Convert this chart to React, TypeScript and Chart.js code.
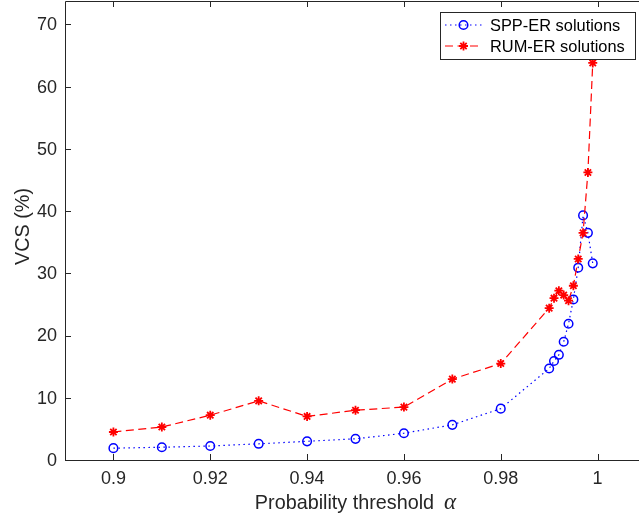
import { useEffect, useRef } from 'react';
import { Chart, registerables } from 'chart.js';

Chart.register(...registerables);

const alphaValues = [0.9, 0.91, 0.92, 0.93, 0.94, 0.95, 0.96, 0.97, 0.98, 0.99, 0.991, 0.992, 0.993, 0.994, 0.995, 0.996, 0.997, 0.998, 0.999];
const sppValues = [1.9, 2.05, 2.25, 2.6, 3.0, 3.4, 4.3, 5.65, 8.25, 14.7, 15.9, 16.9, 19.0, 21.9, 25.8, 30.9, 39.3, 36.5, 31.6];
const rumValues = [4.5, 5.3, 7.2, 9.5, 7.0, 8.0, 8.5, 13.0, 15.5, 24.4, 26.0, 27.2, 26.5, 25.6, 28.0, 32.3, 36.5, 46.2, 63.8];

const seriesLabels = ['SPP-ER solutions', 'RUM-ER solutions'];
const xTickValues = [0.9, 0.92, 0.94, 0.96, 0.98, 1];
const xTickLabels = ['0.9', '0.92', '0.94', '0.96', '0.98', '1'];
const yTickValues = [0, 10, 20, 30, 40, 50, 60, 70];
const yTickLabels = ['0', '10', '20', '30', '40', '50', '60', '70'];
const xTitle = 'Probability threshold';
const xTitleSymbol = 'α';
const yTitle = 'VCS (%)';

const AXIS = '#262626';
const SANS = "'Liberation Sans', Arial, Helvetica, sans-serif";
const SERIF_IT = "italic 23px 'Liberation Serif', 'DejaVu Serif', serif";

const framePlugin = {
  id: 'matlabFrame',
  afterDraw(chart: any) {
    const ctx = chart.ctx as CanvasRenderingContext2D;
    const { left, right, top, bottom } = chart.chartArea;
    const xs = chart.scales.x;
    const ys = chart.scales.y;
    ctx.save();
    ctx.strokeStyle = AXIS;
    ctx.lineWidth = 1;
    ctx.beginPath();
    ctx.rect(Math.round(left) + 0.5, Math.round(top) + 0.5, Math.round(right - left), Math.round(bottom - top));
    ctx.stroke();
    const tl = 6;
    ctx.beginPath();
    xTickValues.forEach((v) => {
      const px = Math.round(xs.getPixelForValue(v)) + 0.5;
      ctx.moveTo(px, bottom);
      ctx.lineTo(px, bottom - tl);
      ctx.moveTo(px, top);
      ctx.lineTo(px, top + tl);
    });
    yTickValues.forEach((v) => {
      const py = Math.round(ys.getPixelForValue(v)) + 0.5;
      ctx.moveTo(left, py);
      ctx.lineTo(left + tl, py);
      ctx.moveTo(right, py);
      ctx.lineTo(right - tl, py);
    });
    ctx.stroke();

    // tick labels
    ctx.fillStyle = AXIS;
    ctx.font = `18px ${SANS}`;
    ctx.textAlign = 'center';
    ctx.textBaseline = 'middle';
    xTickValues.forEach((v, i) => {
      ctx.fillText(xTickLabels[i], xs.getPixelForValue(v), bottom + 19);
    });
    ctx.textAlign = 'right';
    yTickValues.forEach((v, i) => {
      ctx.fillText(yTickLabels[i], left - 8, ys.getPixelForValue(v) + 1);
    });

    // axis titles
    ctx.textBaseline = 'alphabetic';
    ctx.font = `19.8px ${SANS}`;
    const mainW = ctx.measureText(xTitle).width;
    const gap = 10;
    ctx.font = SERIF_IT;
    const symW = ctx.measureText(xTitleSymbol).width;
    const total = mainW + gap + symW;
    const sx = (left + right) / 2 - total / 2;
    ctx.font = `19.8px ${SANS}`;
    ctx.textAlign = 'left';
    ctx.fillText(xTitle, sx, 509);
    ctx.font = SERIF_IT;
    ctx.fillText(xTitleSymbol, sx + mainW + gap, 509);

    ctx.save();
    ctx.translate(28.5, 226.5);
    ctx.rotate(-Math.PI / 2);
    ctx.font = `19.8px ${SANS}`;
    ctx.textAlign = 'center';
    ctx.fillText(yTitle, 0, 0);
    ctx.restore();

    // legend
    const bx = 440.5, by = 12.5, bw = 195, bh = 47;
    ctx.fillStyle = '#ffffff';
    ctx.fillRect(bx, by, bw, bh);
    ctx.strokeStyle = AXIS;
    ctx.lineWidth = 1;
    ctx.strokeRect(bx, by, bw, bh);
    const rows = [25, 46];
    chart.data.datasets.forEach((ds: any, i: number) => {
      const y = rows[i];
      ctx.save();
      ctx.strokeStyle = ds.borderColor;
      ctx.lineWidth = ds.borderWidth;
      ctx.setLineDash(ds.borderDash || []);
      ctx.beginPath();
      ctx.moveTo(445, y);
      ctx.lineTo(482, y);
      ctx.stroke();
      ctx.setLineDash([]);
      ctx.strokeStyle = ds.pointBorderColor;
      ctx.lineWidth = ds.pointBorderWidth;
      const mx = 463.5;
      const r = ds.pointRadius;
      ctx.beginPath();
      if (ds.pointStyle === 'circle') {
        ctx.arc(mx, y, r, 0, Math.PI * 2);
      } else {
        for (let k = 0; k < 4; k++) {
          const a = (k * Math.PI) / 4;
          ctx.moveTo(mx - Math.cos(a) * r, y - Math.sin(a) * r);
          ctx.lineTo(mx + Math.cos(a) * r, y + Math.sin(a) * r);
        }
      }
      ctx.stroke();
      ctx.restore();
      ctx.fillStyle = '#000000';
      ctx.font = `16.4px ${SANS}`;
      ctx.textAlign = 'left';
      ctx.textBaseline = 'middle';
      ctx.fillText(ds.label, 490, y + 1);
    });
    ctx.restore();
  },
};

export default function App() {
  const ref = useRef<HTMLCanvasElement | null>(null);
  useEffect(() => {
    if (!ref.current) return;
    const chart = new Chart(ref.current, {
      type: 'line',
      data: {
        datasets: [
          {
            label: seriesLabels[0],
            data: alphaValues.map((x, i) => ({ x, y: sppValues[i] })),
            borderColor: '#0000ff',
            borderWidth: 1.2,
            borderDash: [1.5, 3.5],
            pointStyle: 'circle',
            pointRadius: 4.3,
            pointBorderColor: '#0000ff',
            pointBackgroundColor: 'rgba(0,0,0,0)',
            pointBorderWidth: 1.5,
            fill: false,
            tension: 0,
            order: 1,
          },
          {
            label: seriesLabels[1],
            data: alphaValues.map((x, i) => ({ x, y: rumValues[i] })),
            borderColor: '#ff0000',
            borderWidth: 1.2,
            borderDash: [8, 4.5],
            pointStyle: 'star',
            pointRadius: 4.5,
            pointBorderColor: '#ff0000',
            pointBackgroundColor: '#ff0000',
            pointBorderWidth: 1.8,
            fill: false,
            tension: 0,
            order: 0,
          },
        ],
      },
      options: {
        responsive: false,
        animation: false,
        devicePixelRatio: 1,
        layout: { autoPadding: false, padding: { top: 1, right: 14, left: 0, bottom: 0 } },
        plugins: { legend: { display: false }, tooltip: { enabled: false }, title: { display: false } },
        scales: {
          x: {
            type: 'linear',
            min: 0.89,
            max: 1.01,
            grid: { display: false },
            border: { display: false },
            ticks: { display: false },
            afterBuildTicks: (scale: any) => {
              scale.ticks = xTickValues.map((v) => ({ value: v }));
            },
            afterFit: (scale: any) => {
              scale.height = 60;
              scale.paddingLeft = 0;
              scale.paddingRight = 0;
            },
          },
          y: {
            type: 'linear',
            min: 0,
            max: 73.75,
            grid: { display: false },
            border: { display: false },
            ticks: { display: false },
            afterBuildTicks: (scale: any) => {
              scale.ticks = yTickValues.map((v) => ({ value: v }));
            },
            afterFit: (scale: any) => {
              scale.width = 65;
              scale.paddingTop = 0;
              scale.paddingBottom = 0;
            },
          },
        },
      },
      plugins: [framePlugin],
    } as any);
    return () => chart.destroy();
  }, []);
  return (
    <div style={{ position: 'absolute', left: 0, top: 0, width: 639, height: 520, overflow: 'hidden', background: '#fff' }}>
      <canvas ref={ref} width={660} height={520} style={{ display: 'block', width: 660, height: 520 }} />
    </div>
  );
}
